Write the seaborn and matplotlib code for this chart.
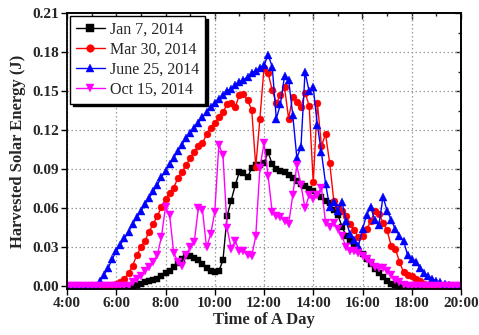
import numpy as np
import pandas as pd
import seaborn as sns
import matplotlib
matplotlib.use("Agg")
import matplotlib.pyplot as plt
from matplotlib.ticker import MultipleLocator, FuncFormatter

# ---------------- data (10-minute samples, 4:00 -> 20:00) ----------------
minutes = list(range(240, 1201, 10))

jan7 = [
    0, 0, 0, 0, 0, 0,                              # 4:00
    0, 0, 0, 0, 0, 0,                              # 5:00
    0, 0, 0, 0, 0, 0.001,                          # 6:00
    0.002, 0.003, 0.004, 0.005, 0.006, 0.008,      # 7:00
    0.010, 0.012, 0.015, 0.018, 0.021, 0.023,      # 8:00
    0.023, 0.022, 0.020, 0.017, 0.014, 0.012,      # 9:00
    0.011, 0.012, 0.020, 0.054, 0.066, 0.078,      # 10:00
    0.088, 0.087, 0.084, 0.091, 0.093, 0.093,      # 11:00
    0.095, 0.103, 0.094, 0.090, 0.089, 0.088,      # 12:00
    0.086, 0.083, 0.081, 0.079, 0.077, 0.075,      # 13:00
    0.073, 0.071, 0.069, 0.066, 0.064, 0.059,      # 14:00
    0.055, 0.046, 0.039, 0.035, 0.031, 0.028,      # 15:00
    0.025, 0.021, 0.017, 0.013, 0.010, 0.007,      # 16:00
    0.004, 0.002, 0.001, 0, 0, 0,                  # 17:00
    0, 0, 0, 0, 0, 0,                              # 18:00
    0, 0, 0, 0, 0, 0,                              # 19:00
    0]                                             # 20:00

mar30 = [
    0, 0, 0, 0, 0, 0,
    0, 0, 0, 0, 0, 0.001,
    0.002, 0.003, 0.006, 0.010, 0.016, 0.024,
    0.030, 0.035, 0.042, 0.048, 0.054, 0.061,
    0.067, 0.072, 0.076, 0.083, 0.088, 0.093,
    0.099, 0.103, 0.108, 0.110, 0.117, 0.122,
    0.126, 0.130, 0.134, 0.140, 0.141, 0.138,
    0.147, 0.148, 0.143, 0.136, 0.092, 0.129,
    0.168, 0.164, 0.151, 0.141, 0.147, 0.153,
    0.129, 0.146, 0.142, 0.138, 0.149, 0.139,
    0.080, 0.141, 0.108, 0.117, 0.095, 0.066,
    0.061, 0.058, 0.054, 0.048, 0.043, 0.038,
    0.039, 0.044, 0.050, 0.058, 0.056, 0.049,
    0.043, 0.031, 0.029, 0.019, 0.011, 0.009,
    0.008, 0.006, 0.004, 0.002, 0.001, 0.001,
    0, 0, 0, 0, 0, 0,
    0]

jun25 = [
    0, 0, 0, 0, 0, 0,
    0, 0, 0.004, 0.009, 0.014, 0.021,
    0.027, 0.032, 0.037, 0.042, 0.048, 0.053,
    0.058, 0.063, 0.068, 0.073, 0.078, 0.084,
    0.089, 0.094, 0.099, 0.104, 0.109, 0.114,
    0.118, 0.122, 0.126, 0.130, 0.134, 0.138,
    0.141, 0.144, 0.147, 0.150, 0.152, 0.155,
    0.157, 0.159, 0.161, 0.164, 0.166, 0.168,
    0.170, 0.178, 0.169, 0.129, 0.140, 0.162,
    0.159, 0.132, 0.099, 0.107, 0.165, 0.150,
    0.153, 0.124, 0.103, 0.079, 0.061, 0.065,
    0.058, 0.065, 0.050, 0.040, 0.036, 0.031,
    0.044, 0.055, 0.061, 0.051, 0.047, 0.069,
    0.058, 0.051, 0.044, 0.039, 0.035, 0.024,
    0.021, 0.019, 0.014, 0.010, 0.008, 0.006,
    0.004, 0.003, 0.002, 0.001, 0, 0,
    0]

oct15 = [
    0, 0, 0, 0, 0, 0,
    0, 0, 0, 0, 0, 0,
    0, 0, 0, 0, 0.003, 0.006,
    0.008, 0.012, 0.015, 0.019, 0.024, 0.038,
    0.061, 0.055, 0.026, 0.019, 0.016, 0.024,
    0.030, 0.034, 0.060, 0.059, 0.030, 0.040,
    0.057, 0.109, 0.101, 0.045, 0.029, 0.035,
    0.027, 0.027, 0.024, 0.023, 0.039, 0.091,
    0.110, 0.085, 0.057, 0.054, 0.053, 0.050,
    0.048, 0.070, 0.093, 0.078, 0.060, 0.070,
    0.067, 0.070, 0.076, 0.049, 0.046, 0.049,
    0.044, 0.039, 0.030, 0.027, 0.027, 0.026,
    0.023, 0.021, 0.018, 0.015, 0.014, 0.014,
    0.012, 0.009, 0.005, 0.003, 0.001, 0,
    0, 0, 0, 0, 0, 0,
    0, 0, 0, 0, 0, 0,
    0]

series_names = ["Jan 7, 2014", "Mar 30, 2014", "June 25, 2014", "Oct 15, 2014"]
series_vals = [jan7, mar30, jun25, oct15]
colors = ["#000000", "#ff0000", "#0000ff", "#ff00ff"]
markers = ["s", "o", "^", "v"]
msizes = [4.6, 5.0, 5.4, 5.4]
x_ticks = list(range(4, 21, 2))
x_tick_labels = [f"{h}:00" for h in x_ticks]

frames = []
for name, vals in zip(series_names, series_vals):
    frames.append(pd.DataFrame({"hour": np.array(minutes) / 60.0,
                                "energy": vals, "series": name}))
df = pd.concat(frames, ignore_index=True)

# ---------------- style ----------------
sns.set_theme(style="white")
plt.rcParams["font.family"] = ["Liberation Serif", "DejaVu Serif"]
plt.rcParams["font.weight"] = "bold"

W, H = 479, 335
fig = plt.figure(figsize=(W / 100, H / 100), dpi=100)
ax = fig.add_axes([67 / W, 1 - 289 / H, (461 - 67) / W, (289 - 13.3) / H])

sns.lineplot(data=df, x="hour", y="energy", hue="series", style="series",
             hue_order=series_names, style_order=series_names,
             palette=dict(zip(series_names, colors)),
             markers=dict(zip(series_names, markers)), dashes=False,
             linewidth=1.0, markeredgewidth=0, ax=ax, legend=False)

for line, ms, c in zip(ax.lines, msizes, colors):
    line.set_markersize(ms)
    line.set_markeredgecolor(c)
    line.set_markeredgewidth(0.3)

ax.set_xlim(4, 20)
ax.set_ylim(-0.002, 0.21)
ax.xaxis.set_major_locator(MultipleLocator(2))
ax.xaxis.set_minor_locator(MultipleLocator(1))
ax.set_xticks(x_ticks)
ax.set_xticklabels(x_tick_labels)
ax.yaxis.set_major_locator(MultipleLocator(0.03))
ax.yaxis.set_minor_locator(MultipleLocator(0.015))
ax.yaxis.set_major_formatter(FuncFormatter(lambda v, p: f"{v:.2f}"))

ax.grid(True, which="major", color="#9a9a9a", linestyle=(0, (1.2, 2.0)), linewidth=0.9)
ax.set_axisbelow(True)

for s in ax.spines.values():
    s.set_visible(True)
    s.set_color("black")
    s.set_linewidth(1.3)

ax.tick_params(axis="both", which="major", direction="out", length=4, width=1,
               color="black", labelsize=11, pad=2)
ax.tick_params(axis="both", which="minor", direction="out", length=2.2, width=1,
               color="black")
ax.tick_params(axis="x", bottom=True, top=False)
ax.tick_params(axis="y", left=True, right=False)
for lab in ax.get_xticklabels() + ax.get_yticklabels():
    lab.set_fontweight("bold")

# mirrored inward ticks on top and right
axt = ax.secondary_xaxis("top")
axt.xaxis.set_major_locator(MultipleLocator(2))
axt.xaxis.set_minor_locator(MultipleLocator(1))
axt.tick_params(which="major", direction="in", length=4, width=1, labeltop=False)
axt.tick_params(which="minor", direction="in", length=2.2, width=1)
axt.spines["top"].set_linewidth(1.3)
axr = ax.secondary_yaxis("right")
axr.yaxis.set_major_locator(MultipleLocator(0.03))
axr.yaxis.set_minor_locator(MultipleLocator(0.015))
axr.tick_params(which="major", direction="in", length=4, width=1, labelright=False)
axr.tick_params(which="minor", direction="in", length=2.2, width=1)
axr.spines["right"].set_linewidth(1.3)

ax.set_xlabel("Time of A Day", fontsize=12, fontweight="bold", labelpad=1)
ax.set_ylabel("Harvested Solar Energy (J)", fontsize=12, fontweight="bold", labelpad=4)

leg = ax.legend(handles=ax.lines[:4], labels=series_names, loc="upper left",
                frameon=True, fancybox=False, edgecolor="black",
                shadow={"color": "black", "alpha": 1.0},
                prop={"family": "Liberation Serif", "weight": "normal", "size": 11.5},
                borderaxespad=0.2, handlelength=1.8, handletextpad=0.35,
                labelspacing=0.25, borderpad=0.35, markerscale=1.1)
leg.get_frame().set_linewidth(1.0)
leg.get_frame().set_alpha(1.0)

fig.savefig("out.png", dpi=100)
